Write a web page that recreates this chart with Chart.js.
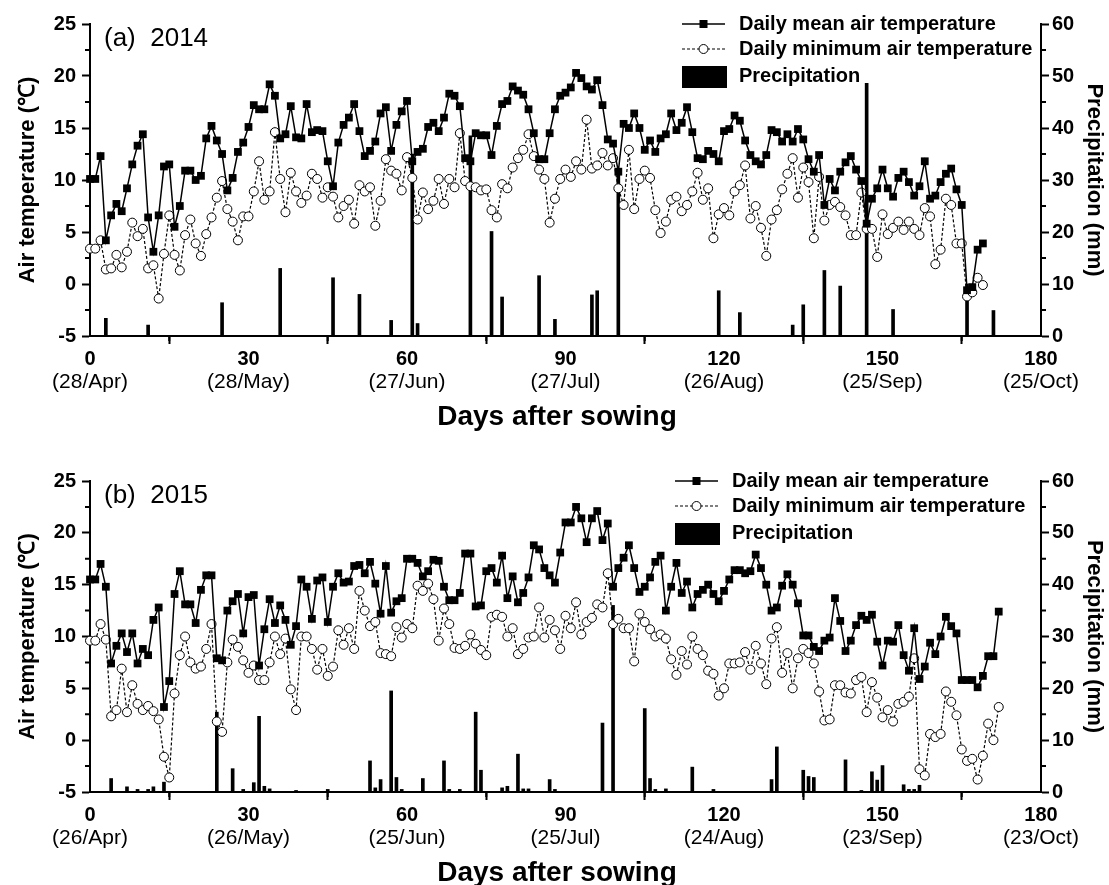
<!DOCTYPE html>
<html lang="en">
<head>
<meta charset="UTF-8">
<title>Air temperature and precipitation, 2014 and 2015</title>
<script src="https://cdn.jsdelivr.net/npm/chart.js"></script>
<style>
  html, body { margin: 0; padding: 0; background: #fff; }
  .panel { position: absolute; left: 0; width: 1109px; }
  #panelA { top: 0; height: 440px; }
  #panelB { top: 440px; height: 445px; }
</style>
</head>
<body>
<div class="panel" id="panelA"><canvas id="chartA" width="1109" height="440"></canvas></div>
<div class="panel" id="panelB"><canvas id="chartB" width="1109" height="445"></canvas></div>
<script>
// ---- 2014 season (day 0 = 28 Apr) ----
const mean2014 = [
  10.1, 10.1, 12.3, 4.2, 6.6, 7.7, 7.0, 9.2, 11.5, 13.3, 14.4, 6.4, 3.1, 6.6, 11.3, 11.5, 5.5, 7.5, 10.9, 10.9,
  10.0, 10.4, 14.0, 15.2, 13.8, 12.5, 9.0, 10.2, 12.7, 13.6, 15.1, 17.2, 16.8, 16.8, 19.2, 18.1, 14.0, 14.4, 17.1, 14.1,
  14.0, 17.3, 14.6, 14.8, 14.7, 11.8, 9.4, 13.6, 15.3, 16.0, 17.3, 14.7, 12.3, 12.8, 13.7, 16.4, 17.0, 12.8, 15.3, 16.6,
  17.6, 11.8, 12.7, 13.0, 15.1, 15.5, 14.7, 16.0, 18.3, 18.1, 17.1, 12.1, 11.8, 14.5, 14.3, 14.3, 12.4, 15.2, 17.3, 17.6,
  19.0, 18.6, 18.2, 16.8, 14.5, 12.0, 12.0, 14.5, 16.8, 18.1, 18.4, 18.9, 20.3, 19.8, 19.0, 18.7, 19.6, 17.2, 13.9, 13.5,
  10.8, 15.4, 15.0, 16.4, 15.0, 12.9, 13.8, 12.7, 14.0, 14.4, 16.4, 14.8, 15.5, 17.0, 14.6, 12.1, 12.0, 12.8, 12.5, 11.8,
  14.7, 14.9, 16.2, 15.7, 13.8, 12.4, 11.8, 11.5, 12.4, 14.8, 14.6, 13.7, 14.4, 13.7, 14.9, 13.9, 12.0, 10.8, 12.4, 7.6,
  10.1, 9.0, 10.8, 11.7, 12.3, 11.0, 9.9, 5.8, 8.2, 9.2, 11.0, 9.2, 8.4, 10.2, 10.8, 9.8, 8.5, 9.4, 11.8, 8.2,
  8.5, 9.8, 10.6, 11.1, 9.1, 7.6, -0.6, -0.3, 3.3, 3.9
];
const min2014 = [
  3.4, 3.4, 4.2, 1.4, 1.5, 2.8, 1.6, 3.1, 5.9, 4.6, 5.3, 1.5, 1.8, -1.4, 2.9, 6.6, 2.8, 1.3, 4.7, 6.2,
  3.9, 2.7, 4.8, 6.4, 8.3, 9.9, 7.2, 6.0, 4.2, 6.5, 6.5, 8.9, 11.8, 8.1, 8.9, 14.6, 10.1, 6.9, 10.7, 8.9,
  7.8, 8.5, 10.6, 10.1, 8.3, 9.3, 8.4, 6.4, 7.5, 8.1, 5.8, 9.5, 8.9, 9.3, 5.6, 8.0, 12.0, 10.9, 10.6, 9.0,
  12.2, 10.2, 6.2, 8.8, 7.2, 8.0, 10.1, 7.7, 10.1, 9.3, 14.5, 9.9, 9.4, 9.3, 9.0, 9.1, 7.1, 6.4, 9.6, 9.2,
  11.2, 12.1, 12.9, 14.4, 12.3, 11.0, 10.1, 5.9, 8.2, 10.1, 11.0, 10.3, 11.8, 11.0, 15.8, 11.1, 11.4, 12.6, 11.4, 12.1,
  9.2, 7.6, 12.9, 7.2, 10.1, 10.9, 10.2, 7.1, 4.9, 6.0, 8.1, 8.4, 7.0, 7.6, 8.9, 10.7, 8.1, 9.2, 4.4, 6.7,
  7.3, 6.6, 8.9, 9.5, 11.4, 6.3, 7.5, 5.4, 2.7, 6.2, 7.1, 9.1, 10.6, 12.1, 8.3, 11.2, 9.8, 4.4, 10.3, 6.1,
  7.6, 7.9, 7.4, 6.6, 4.7, 4.7, 8.8, 5.3, 5.3, 2.6, 6.7, 4.8, 5.4, 6.0, 5.2, 6.0, 5.3, 4.7, 7.3, 6.5,
  1.9, 3.3, 8.2, 7.6, 3.9, 3.9, -1.2, -0.8, 0.6, -0.1
];
const rainDays2014 = [3, 11, 25, 36, 46, 51, 57, 61, 62, 72, 76, 78, 85, 88, 95, 96, 100, 119, 123, 133, 135, 139, 142, 147, 152, 166, 171];
const rainMm2014 = [3.4, 2.1, 6.4, 13.0, 11.2, 8.0, 3.0, 35.0, 2.4, 38.5, 20.1, 7.5, 11.6, 3.2, 7.9, 8.7, 32.1, 8.7, 4.5, 2.1, 6.0, 12.6, 9.6, 48.6, 5.1, 10.0, 4.9];
const dates2014 = ['(28/Apr)', '(28/May)', '(27/Jun)', '(27/Jul)', '(26/Aug)', '(25/Sep)', '(25/Oct)'];

// ---- 2015 season (day 0 = 26 Apr) ----
const mean2015 = [
  15.5, 15.5, 17.0, 14.8, 7.4, 9.1, 10.3, 8.5, 10.3, 7.4, 8.8, 8.2, 11.6, 12.8, 3.2, 5.7, 14.1, 16.3, 13.1, 13.1,
  11.3, 14.5, 15.9, 15.9, 7.9, 7.7, 12.5, 13.4, 14.1, 10.3, 13.8, 14.0, 7.2, 10.7, 13.6, 11.3, 13.0, 11.6, 9.2, 11.0,
  15.5, 14.8, 11.7, 15.4, 15.7, 11.4, 14.8, 16.1, 15.2, 15.3, 16.8, 16.9, 16.1, 17.2, 15.1, 12.2, 16.8, 12.3, 13.4, 13.7,
  17.5, 17.5, 17.1, 15.8, 16.3, 17.4, 17.3, 14.8, 13.5, 13.5, 14.2, 18.0, 18.0, 12.9, 13.0, 16.3, 16.6, 15.2, 17.8, 13.7,
  15.8, 13.3, 14.2, 15.7, 18.8, 18.4, 16.6, 15.9, 15.2, 18.1, 21.0, 21.0, 22.5, 21.4, 19.1, 21.4, 22.1, 19.3, 20.9, 14.8,
  16.6, 17.6, 18.8, 16.6, 14.3, 14.8, 15.7, 17.2, 17.8, 12.5, 14.8, 17.1, 14.2, 15.3, 12.8, 14.1, 14.5, 15.0, 14.1, 13.4,
  14.4, 15.5, 16.4, 16.4, 16.1, 16.3, 17.9, 16.6, 15.0, 12.5, 12.8, 14.9, 16.0, 15.0, 13.2, 10.1, 10.1, 9.0, 8.6, 9.6,
  9.9, 13.7, 11.5, 8.6, 9.6, 11.1, 12.0, 11.6, 12.1, 9.5, 7.2, 9.6, 9.5, 11.1, 8.2, 6.7, 10.8, 5.9, 7.1, 9.4,
  8.3, 10.0, 11.9, 11.0, 10.3, 5.8, 5.8, 5.8, 5.1, 6.2, 8.1, 8.1, 12.4
];
const min2015 = [
  9.6, 9.6, 11.2, 9.7, 2.3, 2.9, 6.9, 2.7, 5.3, 3.5, 2.9, 3.3, 2.8, 2.0, -1.6, -3.6, 4.5, 8.2, 10.0, 7.5,
  6.9, 7.1, 8.8, 11.2, 1.8, 0.8, 7.5, 9.7, 9.0, 7.7, 6.5, 7.2, 5.8, 5.8, 7.5, 10.0, 8.3, 9.8, 4.9, 2.9,
  10.0, 10.0, 8.8, 6.8, 8.8, 6.2, 7.1, 10.6, 9.2, 10.8, 8.8, 14.4, 12.5, 11.0, 11.4, 8.4, 8.3, 8.1, 10.9, 9.9,
  11.2, 10.8, 14.9, 14.4, 15.1, 13.6, 9.6, 12.7, 11.2, 8.9, 8.8, 9.1, 10.2, 9.3, 8.7, 8.2, 11.9, 12.1, 11.9, 10.0,
  10.8, 8.3, 8.8, 9.9, 10.0, 12.8, 9.9, 11.6, 10.6, 8.8, 12.0, 10.8, 13.3, 10.2, 11.4, 11.8, 13.1, 12.8, 16.1, 11.2,
  11.7, 10.8, 10.8, 7.6, 12.2, 11.4, 10.7, 10.0, 10.2, 9.8, 7.8, 6.3, 8.6, 7.3, 10.0, 8.8, 8.2, 6.7, 6.4, 4.3,
  5.0, 7.4, 7.4, 7.5, 8.5, 6.8, 9.1, 7.4, 5.4, 9.8, 10.9, 6.5, 8.4, 5.0, 7.9, 8.8, 8.4, 7.4, 4.7, 1.9,
  2.0, 5.3, 5.3, 4.6, 4.5, 5.8, 6.1, 2.7, 5.6, 4.1, 2.2, 2.9, 1.8, 3.5, 3.7, 4.2, 7.9, -2.8, -3.4, 0.6,
  0.3, 0.6, 4.7, 3.7, 2.4, -0.9, -2.0, -1.8, -3.8, -1.5, 1.6, 0.0, 3.2
];
const rainDays2015 = [4, 7, 9, 11, 12, 14, 24, 27, 29, 31, 32, 33, 34, 39, 45, 53, 54, 55, 57, 58, 59, 63, 67, 68, 70, 73, 74, 78, 79, 81, 82, 83, 87, 88,
  97, 99, 105, 106, 107, 109, 114, 118, 129, 130, 135, 136, 137, 143, 146, 148, 149, 150, 154, 155, 156, 157];
const rainMm2015 = [2.6, 1.0, 0.5, 0.5, 1.0, 1.9, 15.4, 4.5, 0.5, 1.8, 14.6, 1.1, 0.6, 0.3, 0.5, 6.0, 0.8, 2.4, 19.5, 2.8, 0.5, 2.6, 6.0, 0.5, 0.5, 15.4, 4.2, 0.8, 1.1, 7.3, 0.6, 0.6, 2.4, 0.5,
  13.3, 36.0, 16.1, 2.6, 0.5, 0.6, 4.8, 0.5, 2.4, 8.7, 4.2, 3.0, 2.8, 6.2, 0.3, 3.9, 2.3, 5.1, 1.4, 0.5, 0.5, 1.3];
const dates2015 = ['(26/Apr)', '(26/May)', '(25/Jun)', '(25/Jul)', '(24/Aug)', '(23/Sep)', '(23/Oct)'];

const FONT = '"Liberation Sans", Arial, Helvetica, sans-serif';
const PLOT_LEFT = 90, PLOT_RIGHT = 1041, WIDTH = 1109;

Chart.defaults.font.family = FONT;
Chart.defaults.color = '#000';

// minor ticks, date line, axis titles, panel tag and legend
const decorPlugin = {
  id: 'decor',
  afterDraw(chart, args, o) {
    const ctx = chart.ctx;
    const { x, y, y2 } = chart.scales;
    const area = chart.chartArea;
    ctx.save();
    ctx.strokeStyle = '#000';
    ctx.fillStyle = '#000';
    ctx.lineWidth = 2;

    // half-step ticks
    ctx.beginPath();
    for (let d = 15; d < 180; d += 30) {
      const px = x.getPixelForValue(d);
      ctx.moveTo(px, area.bottom); ctx.lineTo(px, area.bottom + 5);
    }
    for (let t = -2.5; t < 25; t += 5) {
      const py = y.getPixelForValue(t);
      ctx.moveTo(area.left, py); ctx.lineTo(area.left - 5, py);
    }
    for (let p = 5; p < 60; p += 10) {
      const py = y2.getPixelForValue(p);
      ctx.moveTo(area.right, py); ctx.lineTo(area.right + 5, py);
    }
    ctx.stroke();

    // calendar dates under the day ticks
    ctx.font = '21px ' + FONT;
    ctx.textAlign = 'center';
    ctx.textBaseline = 'middle';
    o.dates.forEach((s, i) => {
      ctx.fillText(s, x.getPixelForValue(i * 30), area.bottom + 46);
    });

    ctx.font = 'bold 28px ' + FONT;
    ctx.fillText('Days after sowing', 557, area.bottom + 81);

    const midY = (area.top + area.bottom) / 2;
    ctx.font = 'bold 22px ' + FONT;
    ctx.save();
    ctx.translate(28, midY);
    ctx.rotate(-Math.PI / 2);
    ctx.fillText('Air temperature (\u2103)', 0, 0);
    ctx.restore();
    ctx.save();
    ctx.translate(1094, midY);
    ctx.rotate(Math.PI / 2);
    ctx.fillText('Precipitation (mm)', 0, 0);
    ctx.restore();

    ctx.font = '26px ' + FONT;
    ctx.textAlign = 'left';
    ctx.fillText(o.tag, 104, area.top + 15);

    // legend
    const sx = o.legendX, tx = o.legendX + 57, top = area.top;
    ctx.font = 'bold 20px ' + FONT;
    ctx.lineWidth = 1.5;
    ctx.beginPath();
    ctx.moveTo(sx, top); ctx.lineTo(sx + 43, top);
    ctx.stroke();
    ctx.fillRect(sx + 17.5, top - 4, 8, 8);
    ctx.fillText('Daily mean air temperature', tx, top);

    const r2 = top + 25;
    ctx.lineWidth = 1.2;
    ctx.setLineDash([3, 2]);
    ctx.beginPath();
    ctx.moveTo(sx, r2); ctx.lineTo(sx + 43, r2);
    ctx.stroke();
    ctx.setLineDash([]);
    ctx.beginPath();
    ctx.arc(sx + 21.5, r2, 4.5, 0, Math.PI * 2);
    ctx.fillStyle = '#fff';
    ctx.fill();
    ctx.lineWidth = 1;
    ctx.stroke();
    ctx.fillStyle = '#000';
    ctx.fillText('Daily minimum air temperature', tx, r2);

    ctx.fillRect(sx, top + 42, 45, 22);
    ctx.fillText('Precipitation', tx, top + 52);
    ctx.restore();
  }
};

function axisStyle() {
  return {
    grid: { drawOnChartArea: false, drawTicks: true, tickLength: 8, tickWidth: 2, tickColor: '#000' },
    border: { display: true, color: '#000', width: 2 }
  };
}

function buildPanel(canvasId, p) {
  const meanPts = p.mean.map((v, i) => ({ x: i, y: v }));
  const minPts = p.min.map((v, i) => ({ x: i, y: v }));
  const rainPts = p.rainDays.map((d, i) => ({ x: d, y: p.rainMm[i] }));
  const tickFont = { family: FONT, size: 20, weight: 'bold' };

  return new Chart(document.getElementById(canvasId), {
    type: 'line',
    data: {
      datasets: [
        {
          type: 'line', label: 'Daily mean air temperature', data: meanPts, yAxisID: 'y',
          borderColor: '#000', borderWidth: 1.5, tension: 0,
          pointStyle: 'rect', pointRadius: 5.5, pointBackgroundColor: '#000', pointBorderWidth: 0,
          clip: false, order: 1
        },
        {
          type: 'line', label: 'Daily minimum air temperature', data: minPts, yAxisID: 'y',
          borderColor: '#000', borderWidth: 1.2, borderDash: [3, 2], tension: 0,
          pointStyle: 'circle', pointRadius: 4.5, pointBackgroundColor: '#fff',
          pointBorderColor: '#000', pointBorderWidth: 1,
          clip: false, order: 2
        },
        {
          type: 'bar', label: 'Precipitation', data: rainPts, yAxisID: 'y2',
          backgroundColor: '#000', barThickness: 3, grouped: false, order: 3
        }
      ]
    },
    options: {
      responsive: false,
      animation: false,
      devicePixelRatio: 1,
      layout: { padding: { top: p.plotTop, left: 0, right: 0, bottom: 0 } },
      plugins: {
        legend: { display: false },
        tooltip: { enabled: false },
        decor: { dates: p.dates, tag: p.tag, legendX: p.legendX }
      },
      scales: {
        x: Object.assign(axisStyle(), {
          type: 'linear', min: 0, max: 180, offset: false,
          ticks: { stepSize: 30, autoSkip: false, maxRotation: 0, padding: 3, font: tickFont, color: '#000' },
          afterFit: s => { s.height = p.height - p.plotBottom; }
        }),
        y: Object.assign(axisStyle(), {
          position: 'left', min: -5, max: 25,
          ticks: { stepSize: 5, padding: 6, font: tickFont, color: '#000' },
          afterFit: s => { s.width = PLOT_LEFT; }
        }),
        y2: Object.assign(axisStyle(), {
          position: 'right', min: 0, max: 60,
          ticks: { stepSize: 10, padding: 3, font: tickFont, color: '#000' },
          afterFit: s => { s.width = WIDTH - PLOT_RIGHT; }
        })
      }
    },
    plugins: [decorPlugin]
  });
}

buildPanel('chartA', {
  mean: mean2014, min: min2014, rainDays: rainDays2014, rainMm: rainMm2014,
  dates: dates2014, tag: '(a)  2014', legendX: 682,
  plotTop: 24, plotBottom: 336, height: 440
});
buildPanel('chartB', {
  mean: mean2015, min: min2015, rainDays: rainDays2015, rainMm: rainMm2015,
  dates: dates2015, tag: '(b)  2015', legendX: 675,
  plotTop: 41, plotBottom: 352, height: 445
});
</script>
</body>
</html>
